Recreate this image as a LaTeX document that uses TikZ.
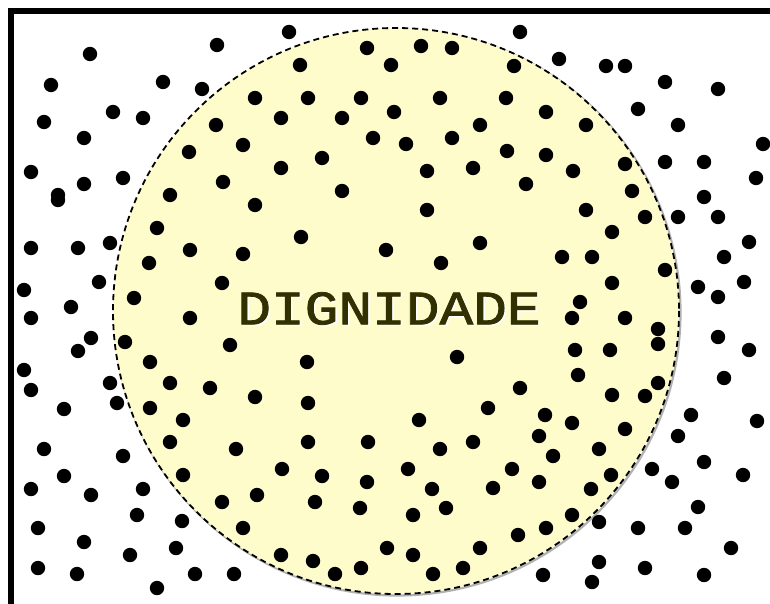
\documentclass[tikz,border=0pt]{standalone}
\usepackage{fontspec}
\newfontfamily\fonterotulo[FakeBold=1.6]{Liberation Mono}
\usepackage{xcolor}
\definecolor{amarelo}{RGB}{255, 252, 204}
\definecolor{oliva}{RGB}{48, 48, 0}
\tikzset{
  moldura/.style={line width=6pt, line join=miter, black},
  circulo/.style={fill=amarelo, draw=black, line width=1.8pt, dash pattern=on 6pt off 4pt},
  sombra/.style={draw=gray!60, line width=2.2pt},
  ponto/.style={fill=black},
  rotulo/.style={font=\fonterotulo\fontsize{48}{48}\selectfont, text=oliva, inner sep=0pt},
}
\newcommand{\largo}[1]{\scalebox{1.17}[1]{#1}}
\begin{document}
\begin{tikzpicture}[x=1pt, y=-1pt]
  \useasboundingbox (0,0) rectangle (770,604);
  \fill[white] (0,0) rectangle (770,604);

  % circulo central
  \draw[sombra] (397.5,312.5) circle[radius=283];
  \draw[circulo] (396,311) circle[radius=283];

  % pontos (fora e dentro)
  \foreach \px/\py in {
    90/54, 217/45, 289/32, 367/48, 421/46, 452/48, 520/32, 300/65, 391/65, 514/66,
    559/59, 606/66, 625/66, 665/82, 718/89, 51/85, 163/82, 202/89,
    113/112, 143/118, 44/122, 84/138, 255/98, 216/125, 243/145, 189/152, 31/172,
    84/184, 123/178, 223/182, 58/195, 170/195,
    308/98, 361/98, 440/98, 506/98, 281/118, 342/118, 394/112, 480/125, 373/138,
    406/144, 452/138, 507/151, 322/158, 281/168, 427/171, 473/168, 342/191,
    638/109, 678/125, 546/112, 586/125, 546/155, 573/171, 526/184, 625/164,
    632/191, 665/162, 704/162, 763/144, 756/178, 704/197,
    31/248, 78/248, 110/243, 99/282, 24/290, 31/318, 71/307, 91/338, 78/351,
    24/370, 31/390, 110/383, 117/403, 64/409, 58/200,
    645/217, 678/217, 718/217, 749/242, 724/257, 665/270, 698/287, 718/297,
    744/282, 658/329, 658/344, 718/337, 749/350, 658/383, 645/396, 724/378,
    691/415, 757/421,
    44/449, 123/456, 64/476, 31/489, 91/495, 143/489, 137/515, 38/528, 84/542,
    130/555, 38/568, 77/574, 157/588, 182/521, 176/548, 195/574, 234/574,
    170/442, 183/475, 222/502, 243/528, 236/449, 257/495, 183/420,
    308/442, 368/442, 440/449, 473/442, 282/469, 322/476, 367/482, 408/469,
    432/489, 493/488, 512/469, 315/502, 360/508, 413/515, 446/508, 281/555,
    313/561, 335/574, 361/568, 387/548, 413/555, 433/574, 463/568, 480/548,
    518/535, 419/420,
    572/423, 625/429, 539/436, 599/449, 553/456, 539/482, 591/489, 611/475,
    572/515, 546/528, 599/522, 652/469, 678/436, 704/462, 672/482, 743/475,
    698/507, 638/528, 685/528, 731/548, 599/562, 645/568, 704/575, 543/575,
    592/582,
    255/205, 427/210, 586/210, 157/228, 301/237, 480/243, 612/232, 190/250,
    149/263, 243/254, 386/250, 441/263, 562/257, 592/257, 222/283, 612/283,
    134/298, 580/302, 190/318, 572/318, 625/318, 125/342, 230/345, 150/362,
    307/362, 457/357, 575/350, 610/350, 578/375, 170/383, 210/388, 255/397,
    520/388, 612/395, 150/408, 308/403, 488/408, 545/415}
    \fill[ponto] (\px,\py) circle[radius=7.2];

  % moldura
  \draw[moldura] (11,604) -- (11,11) -- (770,11);

  % texto
  \node[rotulo, text=white] at (390.5,310) {\largo{DIGNIDADE}};
  \node[rotulo] (dignidade) at (389,308.5) {\largo{DIGNIDADE}};
\end{tikzpicture}
\end{document}
